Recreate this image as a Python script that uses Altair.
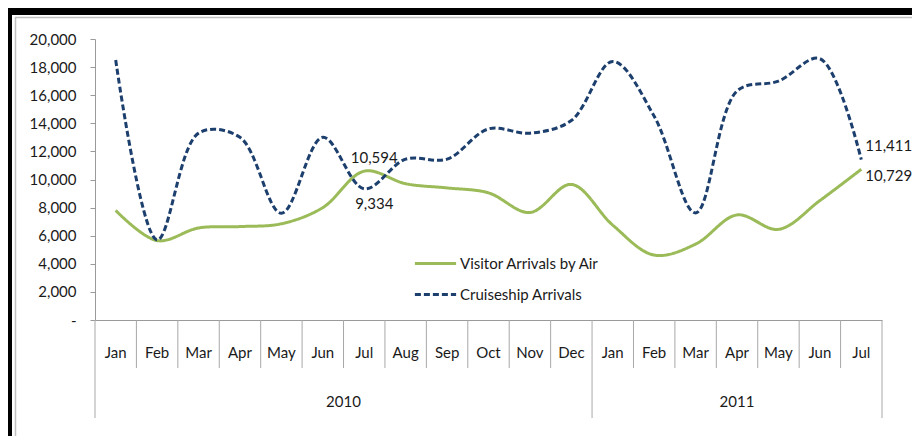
import altair as alt
import pandas as pd

months = ["Jan", "Feb", "Mar", "Apr", "May", "Jun", "Jul", "Aug", "Sep", "Oct", "Nov", "Dec",
          "Jan", "Feb", "Mar", "Apr", "May", "Jun", "Jul"]
years = ["2010"] * 12 + ["2011"] * 7
air = [7800, 5650, 6550, 6650, 6850, 8000, 10594, 9700, 9400, 9050, 7650, 9650,
       6750, 4620, 5400, 7480, 6450, 8500, 10729]
cruise = [18500, 5700, 13300, 13000, 7600, 13000, 9334, 11450, 11450, 13600, 13300, 14200,
          18400, 14500, 7620, 16300, 17000, 18600, 11411]
series_names = ["Visitor Arrivals by Air", "Cruiseship Arrivals"]
year_labels = ["2010", "2011"]
y_ticks = [0, 2000, 4000, 6000, 8000, 10000, 12000, 14000, 16000, 18000, 20000]

FONT = "Lato"
W, H = 787, 281
N = len(months)

rows = []
for i in range(N):
    rows.append({"pos": i + 0.5, "series": series_names[0], "value": air[i]})
    rows.append({"pos": i + 0.5, "series": series_names[1], "value": cruise[i]})
df = pd.DataFrame(rows)

xs = alt.Scale(domain=[0, N], nice=False, zero=False)
ys = alt.Scale(domain=[0, 20000], nice=False)

XAXIS = alt.Axis(labels=False, ticks=False, grid=False, title=None,
                 domainColor="#9a9a9a", domainWidth=1.2)
YAXIS = alt.Axis(values=y_ticks, grid=False, title=None,
                 labelExpr="datum.value == 0 ? '-\u00a0\u00a0' : format(datum.value, ',')",
                 labelFont=FONT, labelFontSize=15, labelColor="#1a1a1a",
                 labelOverlap=False, labelBound=False, labelFlush=False,
                 tickSize=5, tickColor="#9a9a9a", domainColor="#9a9a9a",
                 labelPadding=14)

leg = dict(title=None, orient="none", legendX=318, legendY=202,
           symbolType="stroke", symbolSize=1700, symbolStrokeWidth=3,
           labelFont=FONT, labelFontSize=15, labelColor="#1a1a1a",
           labelOffset=2, rowPadding=0)

lines = alt.Chart(df).mark_line(interpolate="catmull-rom", strokeWidth=3).encode(
    x=alt.X("pos:Q", scale=xs, axis=XAXIS),
    y=alt.Y("value:Q", scale=ys, axis=YAXIS),
    color=alt.Color("series:N",
                    scale=alt.Scale(domain=series_names, range=["#9BBB59", "#1c3f6e"]),
                    legend=alt.Legend(**leg)),
    strokeDash=alt.StrokeDash("series:N",
                              scale=alt.Scale(domain=series_names, range=[[1, 0], [6, 3]]),
                              legend=alt.Legend(**leg)),
    order=alt.Order("pos:Q"),
)

# data labels
lab_rows = [
    {"pos": 6.5, "value": air[6], "txt": f"{air[6]:,}", "kind": "a"},
    {"pos": 6.5, "value": cruise[6], "txt": f"{cruise[6]:,}", "kind": "b"},
    {"pos": 18.5, "value": cruise[18], "txt": f"{cruise[18]:,}", "kind": "c"},
    {"pos": 18.5, "value": air[18], "txt": f"{air[18]:,}", "kind": "d"},
]
ldf = pd.DataFrame(lab_rows)
base_lab = alt.Chart(ldf)
def lab(kind, dx, dy, align):
    return base_lab.transform_filter(alt.datum.kind == kind).mark_text(
        font=FONT, fontSize=15, color="#1a1a1a", dx=dx, dy=dy, align=align, baseline="middle"
    ).encode(x=alt.X("pos:Q", scale=xs, axis=XAXIS),
             y=alt.Y("value:Q", scale=ys, axis=YAXIS), text="txt:N")

labels = lab("a", 10, -13, "center") + lab("b", 10, 15, "center") + \
    lab("c", 4, -14, "left") + lab("d", 4, 7, "left")

# category axis (hierarchical)
mdf = pd.DataFrame({"pos": [i + 0.5 for i in range(N)], "m": months})
month_text = alt.Chart(mdf).mark_text(font=FONT, fontSize=15, color="#1a1a1a",
                                      baseline="middle").encode(
    x=alt.X("pos:Q", scale=xs, axis=XAXIS), y=alt.value(314), text="m:N")

div_df = pd.DataFrame({"b": list(range(1, N))})
div_df = div_df[div_df["b"] != 12]
month_div = alt.Chart(div_df).mark_rule(color="#a8a8a8", strokeWidth=1).encode(
    x=alt.X("b:Q", scale=xs, axis=XAXIS), y=alt.value(H), y2=alt.value(H + 48))

ydiv_df = pd.DataFrame({"b": [0, 12, N]})
year_div = alt.Chart(ydiv_df).mark_rule(color="#a8a8a8", strokeWidth=1).encode(
    x=alt.X("b:Q", scale=xs, axis=XAXIS), y=alt.value(H), y2=alt.value(H + 98))

ydf = pd.DataFrame({"pos": [6.0, 15.5], "y": year_labels})
year_text = alt.Chart(ydf).mark_text(font=FONT, fontSize=15, color="#1a1a1a",
                                     baseline="middle").encode(
    x=alt.X("pos:Q", scale=xs, axis=XAXIS), y=alt.value(363), text="y:N")

# frame decoration
frame_df = pd.DataFrame({"k": [0]})
top_black = alt.Chart(frame_df).mark_rule(color="#000000", strokeWidth=7).encode(
    x=alt.value(-90), x2=alt.value(900), y=alt.value(-27.5))
left_black = alt.Chart(frame_df).mark_rule(color="#000000", strokeWidth=5).encode(
    x=alt.value(-85.5), y=alt.value(-31), y2=alt.value(420))
top_gray = alt.Chart(frame_df).mark_rule(color="#c0c0c0", strokeWidth=1.5).encode(
    x=alt.value(-80), x2=alt.value(900), y=alt.value(-21.5))
left_gray = alt.Chart(frame_df).mark_rule(color="#c0c0c0", strokeWidth=1.5).encode(
    x=alt.value(-79.5), y=alt.value(-22), y2=alt.value(420))

chart = alt.layer(
    top_gray, left_gray, top_black, left_black,
    month_div, year_div, month_text, year_text, lines, labels
).properties(
    width=W, height=H,
    autosize=alt.AutoSizeParams(type="none"),
    padding={"left": 87, "top": 31, "right": 30, "bottom": 116},
    background="#ffffff",
).configure_view(stroke=None)

chart.save("out.html", embed_options={"renderer": "svg", "actions": False})
